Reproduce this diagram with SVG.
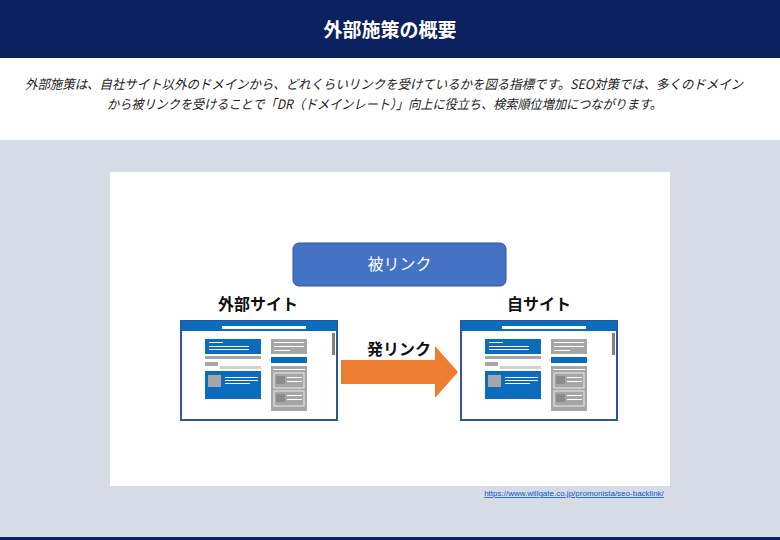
<svg xmlns="http://www.w3.org/2000/svg" xmlns:xlink="http://www.w3.org/1999/xlink" width="780" height="540" viewBox="0 0 780 540">
<style>
.j{font-family:"Noto Sans CJK JP","Noto Sans",sans-serif}
.g{fill:#a6a6a6}.b{fill:#0b6bbd}.w{fill:#fff}
</style>
<defs>
<g id="mock">
<rect x="0" y="0" width="156" height="99" fill="#fff" stroke="#2f5597" stroke-width="2"/>
<rect x="0" y="0" width="156" height="10" fill="#0b6bbd"/>
<rect x="41" y="5" width="84" height="3" class="w"/>
<rect x="151" y="12" width="3" height="22" fill="#808080"/>
<rect x="24" y="18" width="56" height="15" class="b"/>
<rect x="28" y="21" width="14" height="1" class="w"/><rect x="28" y="25" width="40" height="1" class="w"/><rect x="28" y="28" width="40" height="1" class="w"/>
<rect x="24" y="35" width="56" height="3" class="g"/>
<rect x="24" y="41" width="13" height="4" class="g"/>
<rect x="39" y="45" width="41" height="3" fill="#d0d0d0"/>
<rect x="24" y="50" width="56" height="28" class="b"/>
<rect x="27" y="54" width="13" height="12" class="g"/>
<rect x="44" y="56" width="33" height="1" class="w"/><rect x="44" y="59" width="33" height="1" class="w"/><rect x="44" y="62" width="25" height="1" class="w"/>
<rect x="90" y="18" width="36" height="15" class="g"/>
<rect x="93" y="21" width="30" height="1" class="w"/><rect x="93" y="25" width="30" height="1" class="w"/><rect x="93" y="29" width="16" height="1" class="w"/>
<rect x="90" y="36" width="36" height="6" class="b"/>
<rect x="90" y="45" width="36" height="45" class="g"/>
<rect x="92" y="48" width="32" height="1" class="w"/>
<rect x="93" y="52" width="30" height="15" fill="none" stroke="#fff" stroke-width="0.8"/>
<rect x="95" y="55" width="9" height="8" fill="#8c8c8c"/>
<rect x="106" y="56" width="15" height="1" class="w"/><rect x="106" y="60" width="15" height="1" class="w"/>
<rect x="93" y="70" width="30" height="15" fill="none" stroke="#fff" stroke-width="0.8"/>
<rect x="95" y="73" width="9" height="8" fill="#8c8c8c"/>
<rect x="106" y="74" width="15" height="1" class="w"/><rect x="106" y="78" width="15" height="1" class="w"/>
</g>
</defs>
<rect width="780" height="540" fill="#fff"/>
<rect width="780" height="58" fill="#0b2160"/>
<text x="390" y="37" text-anchor="middle" class="j" font-size="19" font-weight="bold" fill="#fff">外部施策の概要</text>
<text x="25" y="89" class="j" font-size="13" fill="#222" font-style="italic" textLength="718" lengthAdjust="spacingAndGlyphs">外部施策は、自社サイト以外のドメインから、どれくらいリンクを受けているかを図る指標です。SEO対策では、多くのドメイン</text>
<text x="107" y="109" class="j" font-size="13" fill="#222" font-style="italic" textLength="555" lengthAdjust="spacingAndGlyphs">から被リンクを受けることで「DR（ドメインレート）」向上に役立ち、検索順位増加につながります。</text>
<rect x="0" y="140" width="780" height="400" fill="#d6dce5"/>
<rect x="0" y="537" width="780" height="3" fill="#0b2160"/>
<rect x="110" y="172" width="560" height="314" fill="#fff"/>
<g id="node-hilink">
<rect x="293" y="243" width="213" height="43" rx="6" fill="#4472c4" stroke="#2f5597"/>
<text x="399.5" y="270" text-anchor="middle" class="j" font-size="16" fill="#fff">被リンク</text>
</g>
<g id="node-external">
<text x="258" y="310" text-anchor="middle" class="j" font-size="16" font-weight="bold" fill="#111">外部サイト</text>
<use xlink:href="#mock" href="#mock" transform="translate(181,321)"/>
</g>
<g id="node-own">
<text x="539" y="310" text-anchor="middle" class="j" font-size="16" font-weight="bold" fill="#111">自サイト</text>
<use xlink:href="#mock" href="#mock" transform="translate(461,321)"/>
</g>
<g id="connectors">
<polygon points="341,360 435,360 435,346 458,372 435,398 435,384 341,384" fill="#ed7d31"/>
<text x="399" y="355" text-anchor="middle" class="j" font-size="16" font-weight="bold" fill="#111">発リンク</text>
</g>
<text x="574" y="496" text-anchor="middle" font-family="Liberation Sans,sans-serif" font-size="8" fill="#1155cc" text-decoration="underline">https://www.willgate.co.jp/promonista/seo-backlink/</text>
</svg>
